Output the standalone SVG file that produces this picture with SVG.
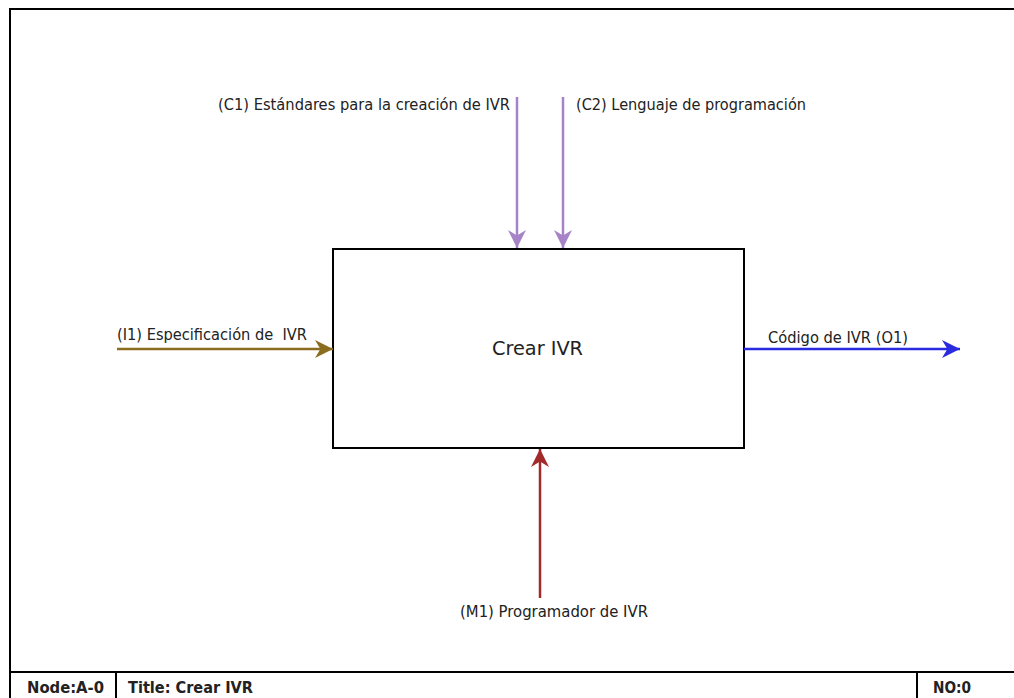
<svg xmlns="http://www.w3.org/2000/svg" width="1014" height="698" viewBox="0 0 1014 698">
  <style>
    .lbl { font-family: "DejaVu Sans Condensed", "DejaVu Sans", "Liberation Sans", sans-serif; font-size: 15.5px; fill: #222; }
    .title { font-family: "DejaVu Sans Condensed", "DejaVu Sans", "Liberation Sans", sans-serif; font-size: 20px; fill: #222; }
    .foot { font-family: "DejaVu Sans Condensed", "DejaVu Sans", "Liberation Sans", sans-serif; font-size: 15px; font-weight: bold; fill: #222; }
    .frame { fill: none; stroke: #000; stroke-width: 2; }
  </style>
  <defs>
    <marker id="ah-purple" viewBox="0 0 10 10" refX="10" refY="5" markerWidth="18" markerHeight="18" markerUnits="userSpaceOnUse" orient="auto">
      <path d="M0,0 L10,5 L0,10 L3,5 z" fill="#a583c6"/>
    </marker>
    <marker id="ah-olive" viewBox="0 0 10 10" refX="10" refY="5" markerWidth="18" markerHeight="18" markerUnits="userSpaceOnUse" orient="auto">
      <path d="M0,0 L10,5 L0,10 L3,5 z" fill="#8a6d1f"/>
    </marker>
    <marker id="ah-blue" viewBox="0 0 10 10" refX="10" refY="5" markerWidth="18" markerHeight="18" markerUnits="userSpaceOnUse" orient="auto">
      <path d="M0,0 L10,5 L0,10 L3,5 z" fill="#2a2ae0"/>
    </marker>
    <marker id="ah-red" viewBox="0 0 10 10" refX="10" refY="5" markerWidth="18" markerHeight="18" markerUnits="userSpaceOnUse" orient="auto">
      <path d="M0,0 L10,5 L0,10 L3,5 z" fill="#a32a2a"/>
    </marker>
  </defs>

  <rect x="0" y="0" width="1014" height="698" fill="#fff"/>

  <!-- sheet frame and footer -->
  <g id="frame">
    <path class="frame" d="M10,698 L10,9 L1016,9"/>
    <line class="frame" x1="10" y1="672" x2="1016" y2="672"/>
    <line class="frame" x1="116" y1="672" x2="116" y2="698"/>
    <line class="frame" x1="917" y1="672" x2="917" y2="698"/>
    <text class="foot" x="27" y="693" textLength="77" lengthAdjust="spacingAndGlyphs">Node:A-0</text>
    <text class="foot" x="128" y="693" textLength="125" lengthAdjust="spacingAndGlyphs">Title: Crear IVR</text>
    <text class="foot" x="933" y="693" textLength="38" lengthAdjust="spacingAndGlyphs">NO:0</text>
  </g>

  <!-- activity box -->
  <g id="crear-ivr">
    <rect x="333" y="249" width="411" height="199" fill="#fff" stroke="#000" stroke-width="2"/>
    <text class="title" x="492" y="355" textLength="91" lengthAdjust="spacingAndGlyphs">Crear IVR</text>
  </g>

  <!-- ICOM arrows -->
  <g id="connectors">
    <line x1="517" y1="97" x2="517" y2="248" stroke="#a583c6" stroke-width="2.5" marker-end="url(#ah-purple)"/>
    <line x1="563" y1="97" x2="563" y2="248" stroke="#a583c6" stroke-width="2.5" marker-end="url(#ah-purple)"/>
    <line x1="117" y1="349" x2="333" y2="349" stroke="#8a6d1f" stroke-width="2.5" marker-end="url(#ah-olive)"/>
    <line x1="744" y1="349" x2="960" y2="349" stroke="#2a2ae0" stroke-width="2.5" marker-end="url(#ah-blue)"/>
    <line x1="540" y1="598" x2="540" y2="449" stroke="#a32a2a" stroke-width="2.5" marker-end="url(#ah-red)"/>
  </g>

  <g id="labels">
    <text class="lbl" x="218" y="110" textLength="292" lengthAdjust="spacingAndGlyphs">(C1) Estándares para la creación de IVR</text>
    <text class="lbl" x="576" y="110" textLength="230" lengthAdjust="spacingAndGlyphs">(C2) Lenguaje de programación</text>
    <text class="lbl" x="117" y="340" textLength="190" lengthAdjust="spacingAndGlyphs" xml:space="preserve">(I1) Especificación de  IVR</text>
    <text class="lbl" x="768" y="343" textLength="140" lengthAdjust="spacingAndGlyphs">Código de IVR (O1)</text>
    <text class="lbl" x="460" y="617" textLength="188" lengthAdjust="spacingAndGlyphs">(M1) Programador de IVR</text>
  </g>
</svg>
